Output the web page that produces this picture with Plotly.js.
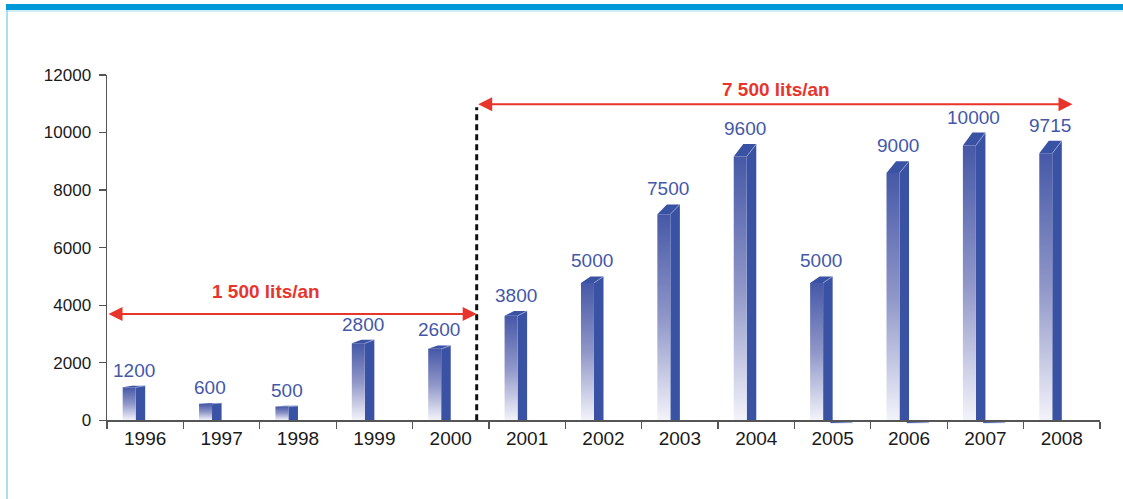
<!DOCTYPE html>
<html><head><meta charset="utf-8">
<script src="https://cdn.plot.ly/plotly-3.0.1.min.js"></script>
<style>html,body{margin:0;padding:0;background:#fff}#chart{width:1123px;height:499px}</style>
</head><body><div id="chart"></div>
<script>
// ---- data ----
const years = ['1996','1997','1998','1999','2000','2001','2002','2003','2004','2005','2006','2007','2008'];
const volumes = [1200, 600, 500, 2800, 2600, 3800, 5000, 7500, 9600, 5000, 9000, 10000, 9715];
const secondSeries = [null, null, null, null, null, null, null, null, null, -100, -100, -100, null];
const yTicks = [0, 2000, 4000, 6000, 8000, 10000, 12000];
const periodLabels = ['1 500 lits/an', '7 500 lits/an'];
const periodLevels = [3690, 10980];

// ---- styling / geometry ----
const FRONT_L = -0.295, FRONT_R = -0.125, SIDE_R = 0.0;
const DEPTH = 0.955;           // front top as a fraction of the value (perspective)
const SIDE_COLOR = '#3a52a3';
const LABEL_COLOR = '#4458a8';
const RED = '#e8352b';
const FONT = 'Liberation Sans, Arial, sans-serif';

const traces = [];
// invisible trace establishing the category axis
traces.push({x: years, y: volumes, type: 'scatter', mode: 'markers', marker: {opacity: 0}, hoverinfo: 'skip', showlegend: false, xaxis: 'x', yaxis: 'y'});

volumes.forEach((v, i) => {
  const fl = i + FRONT_L, fr = i + FRONT_R, sr = i + SIDE_R;
  const vf = v * DEPTH;
  const dx = sr - fr;
  // side + top block
  traces.push({
    x: [fr, fr, fl, fl + dx, sr, sr, fr],
    y: [0, vf, vf, v, v, 0, 0],
    type: 'scatter', mode: 'lines', fill: 'toself', fillcolor: SIDE_COLOR,
    line: {width: 0, color: SIDE_COLOR}, hoverinfo: 'skip', showlegend: false, xaxis: 'x2', yaxis: 'y'
  });
  // front face with vertical gradient
  traces.push({
    x: [fl, fr, fr, fl, fl],
    y: [0, 0, vf, vf, 0],
    type: 'scatter', mode: 'lines', fill: 'toself',
    fillgradient: {type: 'vertical', colorscale: [[0, '#f3f3fa'], [0.5, '#8f96c8'], [1, '#4658a7']]},
    line: {width: 0, color: '#4658a7'}, hoverinfo: 'skip', showlegend: false, xaxis: 'x2', yaxis: 'y'
  });
  // light edge between top and side
  traces.push({
    x: [fr, sr], y: [vf, v], type: 'scatter', mode: 'lines',
    line: {width: 1, color: 'rgba(190,200,235,0.7)'}, hoverinfo: 'skip', showlegend: false, xaxis: 'x2', yaxis: 'y'
  });
});

// second (near-zero) series
secondSeries.forEach((v, i) => {
  if (v === null) return;
  traces.push({
    x: [i - 0.03, i + 0.26, i + 0.26, i - 0.03, i - 0.03],
    y: [0, 0, v, v, 0],
    type: 'scatter', mode: 'lines', fill: 'toself',
    fillgradient: {type: 'horizontal', colorscale: [[0, '#3a52a3'], [1, '#aab2da']]},
    line: {width: 0, color: '#3a52a3'}, hoverinfo: 'skip', showlegend: false, xaxis: 'x2', yaxis: 'y'
  });
});

const annotations = [];
volumes.forEach((v, i) => {
  annotations.push({
    x: i - 0.15, y: v, xref: 'x2', yref: 'y', text: String(v), showarrow: false,
    yanchor: 'bottom', xanchor: 'center', yshift: 3,
    font: {family: FONT, size: 19, color: LABEL_COLOR}
  });
});

// period arrows
const split = 4.34;
const arrowEnds = [[-0.5, split], [split, 12.14]];
periodLevels.forEach((lvl, k) => {
  annotations.push({
    x: arrowEnds[k][1], y: lvl, ax: arrowEnds[k][0], ay: lvl,
    xref: 'x2', yref: 'y', axref: 'x2', ayref: 'y', text: '', showarrow: true,
    arrowhead: 2, startarrowhead: 2, arrowside: 'end+start', arrowsize: 1.4, startarrowsize: 1.4,
    arrowwidth: 2, arrowcolor: RED, standoff: 0, startstandoff: 0
  });
});
annotations.push({x: 1.58, y: 4484, xref: 'x2', yref: 'y', text: periodLabels[0], showarrow: false,
  font: {family: FONT, size: 19, color: RED, weight: 'bold'}});
annotations.push({x: 8.26, y: 11506, xref: 'x2', yref: 'y', text: periodLabels[1], showarrow: false,
  font: {family: FONT, size: 19, color: RED, weight: 'bold'}});

const yMin = -130, yMax = 12000;
const layout = {
  width: 1123, height: 499,
  margin: {l: 107, r: 23, t: 75, b: 75, pad: 0},
  paper_bgcolor: '#ffffff', plot_bgcolor: '#ffffff',
  showlegend: false,
  font: {family: FONT, size: 17, color: '#1a1a1a'},
  xaxis: {
    type: 'category', range: [-0.5, 12.5], tickson: 'boundaries', ticks: 'outside', ticklen: 7,
    tickcolor: '#555', tickwidth: 1.2, showline: true, linecolor: '#555', linewidth: 1.5,
    showgrid: false, anchor: 'free', position: (0 - yMin) / (yMax - yMin),
    tickfont: {family: FONT, size: 19, color: '#1a1a1a'}, fixedrange: true
  },
  xaxis2: {overlaying: 'x', range: [-0.5, 12.5], visible: false, fixedrange: true},
  yaxis: {
    range: [yMin, yMax], tickvals: yTicks, tickformat: 'd', ticks: 'outside', ticklen: 7,
    tickcolor: '#555', tickwidth: 1.2, showline: true, linecolor: '#555', linewidth: 1.5,
    showgrid: false, zeroline: false, anchor: 'x', ticklabelstandoff: 4,
    tickfont: {family: FONT, size: 17, color: '#1a1a1a'}, fixedrange: true
  },
  shapes: [
    {type: 'rect', xref: 'paper', yref: 'paper', x0: -0.1017, x1: 1.03, y0: 1.1862, y1: 1.2034,
      fillcolor: '#0099d8', line: {width: 0}},
    {type: 'line', xref: 'paper', yref: 'paper', x0: -0.1007, x1: 1.03, y0: 1.1834, y1: 1.1834,
      line: {color: '#9fdaf3', width: 1}},
    {type: 'line', xref: 'paper', yref: 'paper', x0: -0.1007, x1: -0.1007, y0: 1.1862, y1: -0.25,
      line: {color: '#8fd3f0', width: 1.5}},
    {type: 'line', xref: 'x2', yref: 'y', x0: split, x1: split, y0: 0, y1: 10880,
      line: {color: '#111', width: 3, dash: '6px,4px'}}
  ],
  annotations: annotations
};

Plotly.newPlot('chart', traces, layout, {staticPlot: true, displayModeBar: false});
</script>
</body></html>
